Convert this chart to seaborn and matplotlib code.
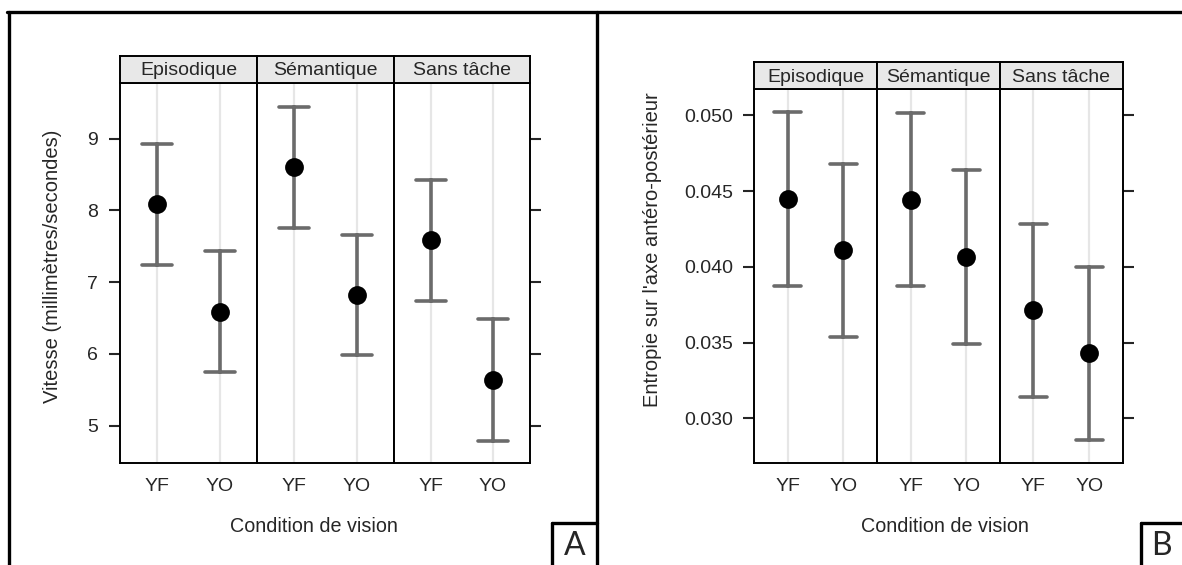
import numpy as np
import pandas as pd
import matplotlib
matplotlib.use("Agg")
import matplotlib.pyplot as plt
from matplotlib.lines import Line2D
import seaborn as sns

# values (mean with lower / upper bound of the interval)
conditions = ["Episodique", "Sémantique", "Sans tâche"]
vision = ["YF", "YO"]

vitesse_mean = [8.09, 6.58, 8.60, 6.82, 7.58, 5.63]
vitesse_low = [7.24, 5.75, 7.75, 5.98, 6.74, 4.79]
vitesse_high = [8.93, 7.44, 9.44, 7.66, 8.42, 6.48]
vitesse_ticks = [5, 6, 7, 8, 9]

entropie_mean = [0.04445, 0.0411, 0.04443, 0.04064, 0.03714, 0.0343]
entropie_low = [0.03875, 0.0354, 0.03875, 0.03491, 0.03143, 0.02857]
entropie_high = [0.0502, 0.04678, 0.05015, 0.04637, 0.04286, 0.0400]
entropie_ticks = [0.030, 0.035, 0.040, 0.045, 0.050]

sns.set_style("white")
plt.rcParams['font.family'] = ['Liberation Sans', 'DejaVu Sans']

W, H = 1182, 565
fig = plt.figure(figsize=(W / 100, H / 100), dpi=100)


def box(x0, x1, y_top, y_bot):
    # pixel box -> figure fraction rect
    return [x0 / W, 1 - y_bot / H, (x1 - x0) / W, (y_bot - y_top) / H]


def long_table(mean, low, high):
    # three rows per cell: median gives the mean, 0-100 pi gives low..high
    rows = []
    i = 0
    for c in conditions:
        for v in vision:
            for val in (low[i], mean[i], high[i]):
                rows.append({"condition": c, "vision": v, "value": val})
            i += 1
    return pd.DataFrame(rows)


def draw_panel(df, edges, y_top, y_strip, y_bot, ylim, yticks, fmt,
               ylabel, ylab_xy, xlab_xy, tick_pad):
    n = len(conditions)
    for k, cond in enumerate(conditions):
        ax = fig.add_axes(box(edges[k], edges[k + 1], y_top, y_bot))
        sub = df[df["condition"] == cond]
        sns.pointplot(data=sub, x="vision", y="value", order=vision,
                      estimator="median", errorbar=("pi", 100),
                      color="black", linestyle="none", capsize=0.48,
                      markersize=11.5, zorder=3,
                      err_kws={"color": "#6b6b6b", "linewidth": 2.6, "zorder": 2},
                      ax=ax)
        ax.set_xlim(-0.6, 1.6)
        ax.set_ylim(*ylim)
        for xv in range(len(vision)):
            ax.axvline(xv, color="#e6e6e6", lw=1.6, zorder=0)
        ax.set_xlabel("")
        ax.set_ylabel("")
        ax.set_yticks(yticks)
        ax.set_yticklabels([fmt.format(t) for t in yticks])
        for s in ax.spines.values():
            s.set_linewidth(1.4)
            s.set_color("black")
        ax.tick_params(axis="x", length=0, pad=11, labelsize=14)
        ax.tick_params(axis="y", direction="out", length=8, width=1.5,
                       labelsize=14, pad=tick_pad,
                       left=(k == 0), labelleft=(k == 0),
                       right=(k == n - 1), labelright=False)

        # strip on top of each facet
        st = fig.add_axes(box(edges[k], edges[k + 1], y_strip, y_top))
        st.set_facecolor("#e8e8e8")
        st.set_xticks([])
        st.set_yticks([])
        for s in st.spines.values():
            s.set_linewidth(1.4)
            s.set_color("black")
        st.text(0.5, 0.45, cond, ha="center", va="center", fontsize=14,
                transform=st.transAxes)

    fig.text(ylab_xy[0] / W, 1 - ylab_xy[1] / H, ylabel, rotation=90,
             ha="center", va="center", fontsize=14.5)
    fig.text(xlab_xy[0] / W, 1 - xlab_xy[1] / H, "Condition de vision",
             ha="center", va="center", fontsize=14.2)


vitesse = long_table(vitesse_mean, vitesse_low, vitesse_high)
entropie = long_table(entropie_mean, entropie_low, entropie_high)

draw_panel(vitesse, [120, 257, 394, 530], 83.3, 55.7, 463, (4.48, 9.77),
           vitesse_ticks, "{:d}", "Vitesse (millimètres/secondes)",
           (53, 266), (314, 527), 8)
draw_panel(entropie, [754, 877, 1000, 1122.6], 89.3, 62, 462.7,
           (0.02707, 0.05172), entropie_ticks, "{:.3f}",
           "Entropie sur l'axe antéro-postérieur", (653, 250), (945, 526), 7)

# outer frames and panel letters
lw = 2.4
frame = [
    ([7, W], [11.5, 11.5]),
    ([8.5, 8.5], [11.5, H + 5]),
    ([597, 597], [11.5, H + 5]),
    ([552, 552], [523, H + 5]),
    ([552, 597], [523, 523]),
    ([1141, 1141], [523, H + 5]),
    ([1141, W + 5], [523, 523]),
]
for xs, ys in frame:
    fig.add_artist(Line2D([x / W for x in xs], [1 - y / H for y in ys],
                          color="black", lw=lw, transform=fig.transFigure))

fig.text(574.5 / W, 1 - 546 / H, "A", ha="center", va="center",
         fontsize=23, family=["Lato", "DejaVu Sans"])
fig.text(1161 / W, 1 - 546 / H, "B", ha="center", va="center",
         fontsize=23, family=["Lato", "DejaVu Sans"])

fig.savefig("out.png", dpi=100)
